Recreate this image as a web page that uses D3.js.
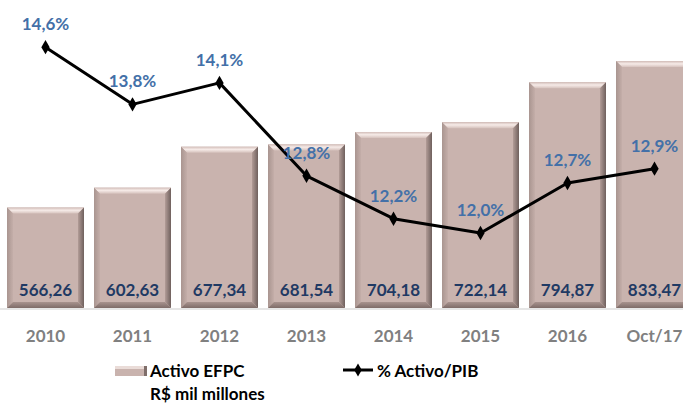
<!DOCTYPE html>
<html>
<head>
<meta charset="utf-8">
<script src="https://cdn.jsdelivr.net/npm/d3@7"></script>
<style>
  body { margin: 0; background: #fff; }
  svg { display: block; font-family: Lato, "Open Sans", sans-serif; }
</style>
</head>
<body>
<div id="chart"></div>
<script>
// data
const categories = ["2010", "2011", "2012", "2013", "2014", "2015", "2016", "Oct/17"];
const activo = [566.26, 602.63, 677.34, 681.54, 704.18, 722.14, 794.87, 833.47];
const pctPib = [14.6, 13.8, 14.1, 12.8, 12.2, 12.0, 12.7, 12.9];

const width = 683, height = 403;
const baseY = 308;

const svg = d3.select("#chart").append("svg")
    .attr("width", width)
    .attr("height", height);

const defs = svg.append("defs");

function grad(id, x2, y2, stops) {
    let g = defs.append("linearGradient").attr("id", id)
        .attr("x1", 0).attr("y1", 0).attr("x2", x2).attr("y2", y2);
    stops.forEach(s => g.append("stop").attr("offset", s[0]).attr("stop-color", s[1]));
}
grad("bevTop", 0, 1, [[0, "#d2bdb8"], [0.45, "#f6ebe8"], [1, "#d6c2bd"]]);
grad("bevRight", 1, 0, [[0, "#b29c97"], [1, "#6f605d"]]);
grad("bevLeft", 1, 0, [[0, "#a99590"], [1, "#c4aea9"]]);
grad("bevBottom", 0, 1, [[0, "#a8938e"], [1, "#7e6c68"]]);

const x = d3.scaleBand()
    .domain(categories)
    .range([2, 698])
    .paddingInner(0.115)
    .paddingOuter(0.0575);

const y = d3.scaleLinear().domain([383, 945]).range([baseY, 0]);
const y2 = d3.scaleLinear().domain([10.95, 15.26]).range([baseY, 0]);

const bw = x.bandwidth();
const bev = 6;

// faint baseline
svg.append("line")
    .attr("x1", 0).attr("x2", width)
    .attr("y1", baseY + 1).attr("y2", baseY + 1)
    .attr("stroke", "#e6e6e6").attr("stroke-width", 2);

// bars with bevel
const bars = svg.append("g").selectAll("g")
    .data(categories.map((c, i) => ({c: c, v: activo[i]})))
    .join("g");

bars.each(function (d) {
    let g = d3.select(this);
    let x0 = x(d.c), x1 = x0 + bw, t = y(d.v), b = baseY;
    g.append("rect")
        .attr("x", x0).attr("y", t).attr("width", bw).attr("height", b - t)
        .attr("fill", "#c9b3ae");
    g.append("polygon").attr("fill", "url(#bevTop)")
        .attr("points", [[x0, t], [x1, t], [x1 - bev, t + bev], [x0 + bev, t + bev]].join(" "));
    g.append("polygon").attr("fill", "url(#bevLeft)")
        .attr("points", [[x0, t], [x0 + bev, t + bev], [x0 + bev, b - bev], [x0, b]].join(" "));
    g.append("polygon").attr("fill", "url(#bevRight)")
        .attr("points", [[x1, t], [x1 - bev, t + bev], [x1 - bev, b - bev], [x1, b]].join(" "));
    g.append("polygon").attr("fill", "url(#bevBottom)")
        .attr("points", [[x0, b], [x0 + bev, b - bev], [x1 - bev, b - bev], [x1, b]].join(" "));
});

// value labels inside bars
svg.append("g").selectAll("text")
    .data(categories.map((c, i) => ({c: c, v: activo[i]})))
    .join("text")
    .attr("x", d => x(d.c) + bw / 2)
    .attr("y", 296)
    .attr("text-anchor", "middle")
    .attr("font-size", 17)
    .attr("font-weight", "bold")
    .attr("fill", "#1f3a64")
    .text(d => d3.format(".2f")(d.v).replace(".", ","));

// category axis
svg.append("g").selectAll("text")
    .data(categories)
    .join("text")
    .attr("x", d => x(d) + bw / 2)
    .attr("y", 342)
    .attr("text-anchor", "middle")
    .attr("font-size", 17)
    .attr("font-weight", "bold")
    .attr("fill", "#808080")
    .text(d => d);

// % line
const pts = categories.map((c, i) => ({c: c, v: pctPib[i]}));
const line = d3.line()
    .x(d => x(d.c) + bw / 2)
    .y(d => y2(d.v));

svg.append("path")
    .datum(pts)
    .attr("fill", "none")
    .attr("stroke", "#000")
    .attr("stroke-width", 3)
    .attr("stroke-linejoin", "round")
    .attr("d", line);

svg.append("g").selectAll("path")
    .data(pts)
    .join("path")
    .attr("transform", d => `translate(${x(d.c) + bw / 2},${y2(d.v)})`)
    .attr("d", d3.symbol(d3.symbolDiamond, 60))
    .attr("fill", "#000");

svg.append("g").selectAll("text")
    .data(pts)
    .join("text")
    .attr("x", d => x(d.c) + bw / 2)
    .attr("y", d => y2(d.v) - 17)
    .attr("text-anchor", "middle")
    .attr("font-size", 17)
    .attr("font-weight", "bold")
    .attr("fill", "#4370a8")
    .text(d => d.v.toFixed(1).replace(".", ",") + "%");

// legend
const leg = svg.append("g");
leg.append("rect").attr("x", 115).attr("y", 366).attr("width", 32).attr("height", 10).attr("fill", "#c9b3ae");
leg.append("rect").attr("x", 115).attr("y", 366).attr("width", 32).attr("height", 3).attr("fill", "#eadcd8");
leg.append("rect").attr("x", 144).attr("y", 366).attr("width", 3).attr("height", 10).attr("fill", "#7f6e6a");
leg.append("text").attr("x", 150).attr("y", 377)
    .attr("font-size", 17).attr("font-weight", "bold").attr("fill", "#000")
    .text("Activo EFPC");
leg.append("text").attr("x", 150).attr("y", 400)
    .attr("font-size", 17).attr("font-weight", "bold").attr("fill", "#000")
    .text("R$ mil millones");

leg.append("line").attr("x1", 343).attr("x2", 373).attr("y1", 370).attr("y2", 370)
    .attr("stroke", "#000").attr("stroke-width", 3);
leg.append("path").attr("transform", "translate(358,370)")
    .attr("d", d3.symbol(d3.symbolDiamond, 50)).attr("fill", "#000");
leg.append("text").attr("x", 377).attr("y", 377)
    .attr("font-size", 17).attr("font-weight", "bold").attr("fill", "#000")
    .text("% Activo/PIB");
</script>
</body>
</html>
